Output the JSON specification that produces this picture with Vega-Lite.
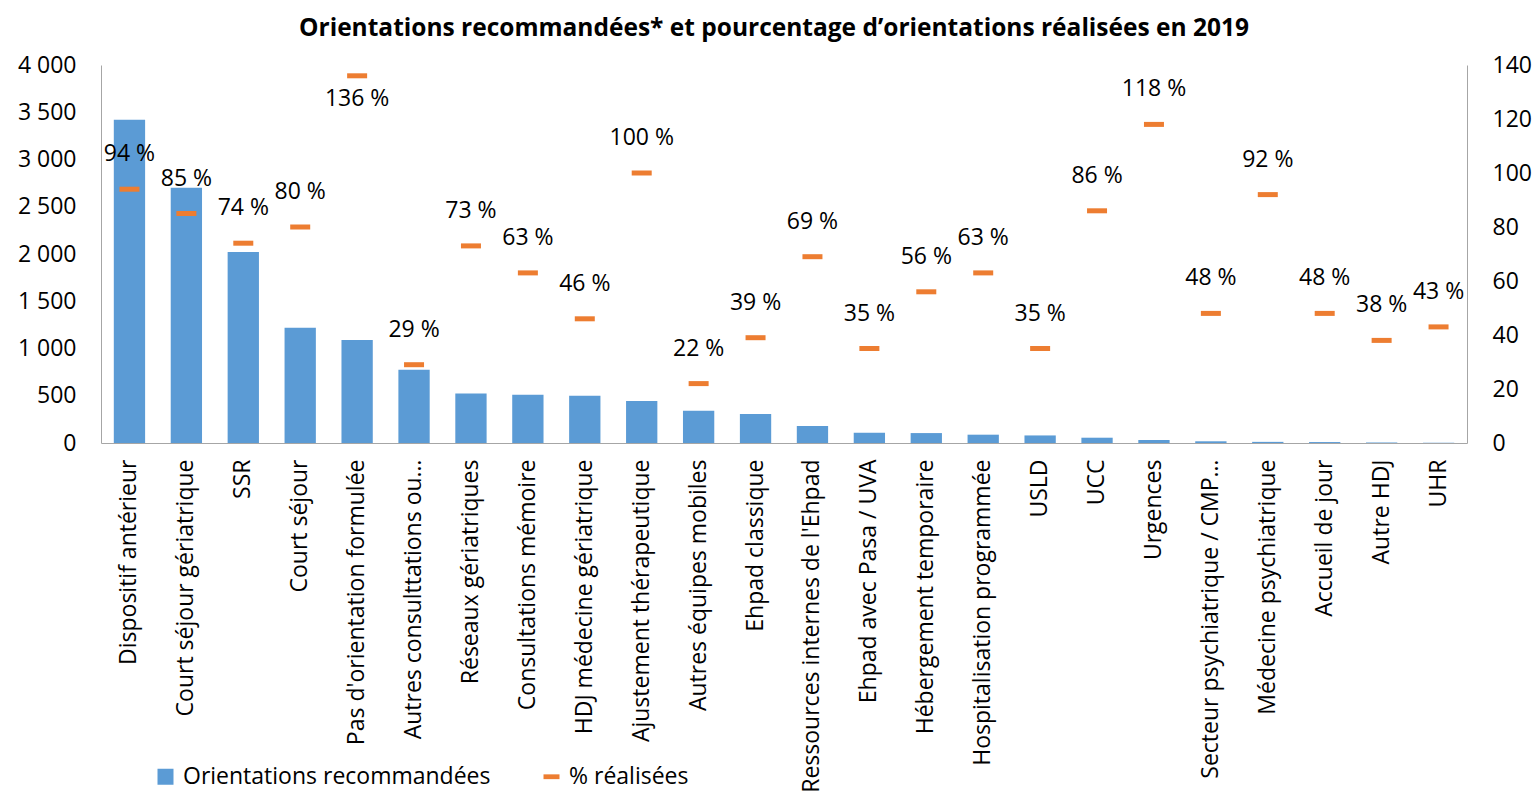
{
  "$schema": "https://vega.github.io/schema/vega-lite/v6.json",
  "autosize": "none",
  "width": 1366,
  "height": 378,
  "padding": {"left": 101, "top": 65, "right": 67, "bottom": 351},
  "background": "white",
  "config": {
    "font": "Open Sans",
    "view": {"stroke": null},
    "axis": {"labelFont": "Open Sans", "labelColor": "black", "domainColor": "#A6A6A6", "ticks": false, "grid": false, "title": null}
  },
  "title": {"text": "Orientations recommandées* et pourcentage d’orientations réalisées en 2019", "fontSize": 24.5, "fontWeight": "bold", "font": "Open Sans", "color": "black", "offset": 13, "dx": -10, "anchor": "middle"},
  "data": {"values": [
    {"cat": "Dispositif antérieur", "n": 3420, "pct": 94},
    {"cat": "Court séjour gériatrique", "n": 2700, "pct": 85},
    {"cat": "SSR", "n": 2020, "pct": 74},
    {"cat": "Court séjour", "n": 1220, "pct": 80},
    {"cat": "Pas d'orientation formulée", "n": 1090, "pct": 136},
    {"cat": "Autres consulttations ou…", "n": 775, "pct": 29},
    {"cat": "Réseaux gériatriques", "n": 525, "pct": 73},
    {"cat": "Consultations mémoire", "n": 510, "pct": 63},
    {"cat": "HDJ médecine gériatrique", "n": 500, "pct": 46},
    {"cat": "Ajustement thérapeutique", "n": 445, "pct": 100},
    {"cat": "Autres équipes mobiles", "n": 340, "pct": 22},
    {"cat": "Ehpad classique", "n": 307, "pct": 39},
    {"cat": "Ressources internes de l'Ehpad", "n": 180, "pct": 69},
    {"cat": "Ehpad avec Pasa / UVA", "n": 109, "pct": 35},
    {"cat": "Hébergement temporaire", "n": 105, "pct": 56},
    {"cat": "Hospitalisation programmée", "n": 88, "pct": 63},
    {"cat": "USLD", "n": 80, "pct": 35},
    {"cat": "UCC", "n": 56, "pct": 86},
    {"cat": "Urgences", "n": 32, "pct": 118},
    {"cat": "Secteur psychiatrique / CMP…", "n": 18, "pct": 48},
    {"cat": "Médecine psychiatrique", "n": 12, "pct": 92},
    {"cat": "Accueil de jour", "n": 10, "pct": 48},
    {"cat": "Autre HDJ", "n": 5, "pct": 38},
    {"cat": "UHR", "n": 3, "pct": 43}
  ]},
  "encoding": {
    "x": {"field": "cat", "type": "nominal", "sort": null,
      "scale": {"paddingInner": 0.45, "paddingOuter": 0.225},
      "axis": {"labelAngle": -90, "labelAlign": "right", "labelBaseline": "middle", "labelFontSize": 23, "labelPadding": 16, "labelLimit": 600}}
  },
  "layer": [
    {
      "mark": {"type": "bar"},
      "encoding": {
        "y": {"field": "n", "type": "quantitative", "scale": {"domain": [0, 4000]},
          "axis": {"orient": "left", "values": [0, 500, 1000, 1500, 2000, 2500, 3000, 3500, 4000], "labelFontSize": 23, "labelPadding": 25, "labelExpr": "replace(format(datum.value, ','), ',', ' ')"}},
        "color": {"datum": "Orientations recommandées", "type": "nominal",
          "scale": {"domain": ["Orientations recommandées", "% réalisées"], "range": ["#5B9BD5", "#ED7D31"]},
          "legend": {"orient": "none", "legendX": 53, "legendY": 700, "direction": "horizontal", "title": null, "padding": 0,
            "labelFontSize": 23, "labelFont": "Open Sans", "labelColor": "black", "labelLimit": 500, "symbolSize": 256, "symbolType": "square", "columnPadding": 49, "labelOffset": 6, "symbolStrokeWidth": 0,
            "encode": {"symbols": {"update": {"shape": {"signal": "datum.value === '% réalisées' ? 'M-1,-0.3H1V0.3H-1Z' : 'square'"}}}}}}
      }
    },
    {
      "layer": [
        {
          "mark": {"type": "tick", "size": 20, "thickness": 5, "opacity": 1},
          "encoding": {
            "y": {"field": "pct", "type": "quantitative", "scale": {"domain": [0, 140]},
              "axis": {"orient": "right", "values": [0, 20, 40, 60, 80, 100, 120, 140], "labelFontSize": 23, "labelPadding": 25}},
            "color": {"datum": "% réalisées", "type": "nominal"}
          }
        },
        {
          "transform": [{"filter": "datum.pct < 130"}, {"calculate": "datum.pct + ' %'", "as": "lbl"}],
          "mark": {"type": "text", "dy": -35, "fontSize": 23, "color": "black", "baseline": "middle"},
          "encoding": {
            "y": {"field": "pct", "type": "quantitative"},
            "text": {"field": "lbl", "type": "nominal"}
          }
        },
        {
          "transform": [{"filter": "datum.pct >= 130"}, {"calculate": "datum.pct + ' %'", "as": "lbl"}],
          "mark": {"type": "text", "dy": 23, "fontSize": 23, "color": "black", "baseline": "middle"},
          "encoding": {
            "y": {"field": "pct", "type": "quantitative"},
            "text": {"field": "lbl", "type": "nominal"}
          }
        }
      ]
    }
  ],
  "resolve": {"scale": {"y": "independent"}}
}
